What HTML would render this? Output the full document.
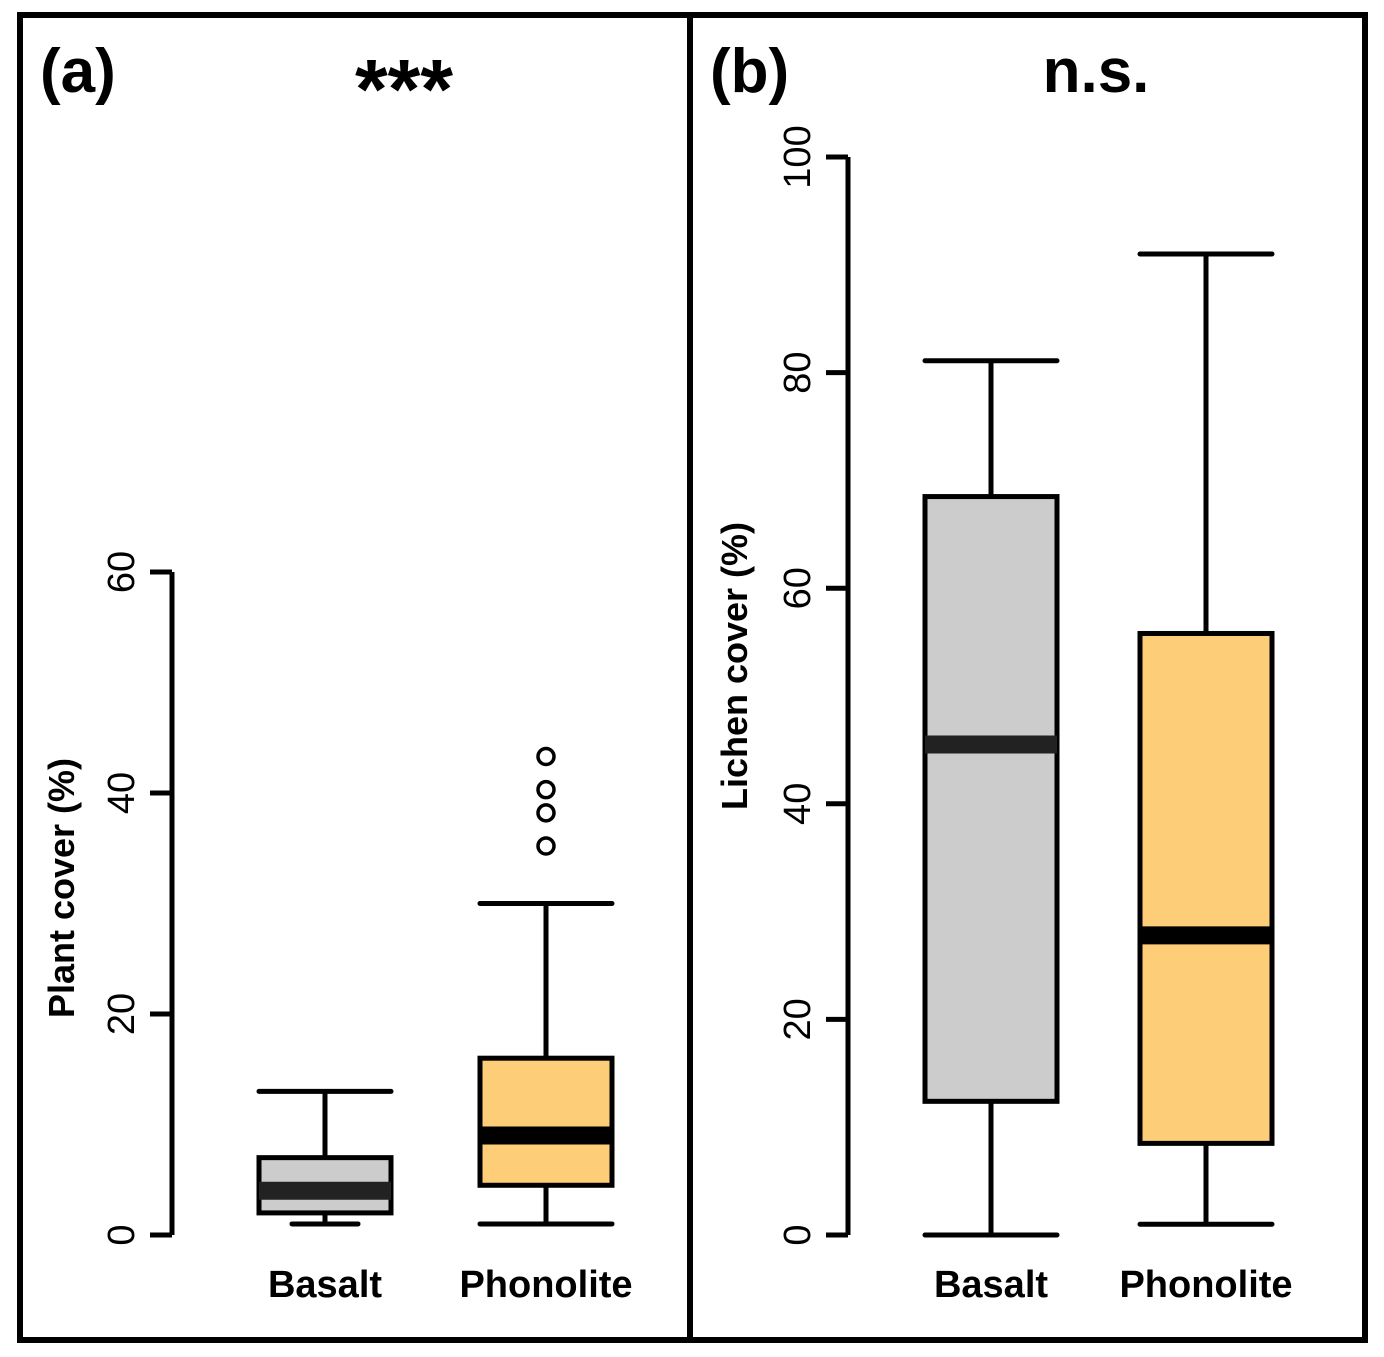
<!DOCTYPE html>
<html><head><meta charset="utf-8"><style>
body{margin:0;background:#fff;}
svg{display:block;font-family:"Liberation Sans","DejaVu Sans",sans-serif;font-weight:bold;}
</style></head><body>
<svg id="c" width="1384" height="1357" viewBox="0 0 1384 1357"></svg>
<script>
const categories = ["Basalt","Phonolite"];
const plantStats = [[1,2,4,7,13],[1,4.5,9,16,30]];
const plantOutliers = [[],[43.3,40.3,38.2,35.2]];
const lichenStats = [[0,12.4,45.5,68.5,81.1],[1,8.5,27.8,55.8,91]];
const lichenOutliers = [[],[]];
const plantTicks = [0,20,40,60];
const lichenTicks = [0,20,40,60,80,100];
const fills = ["#cccccc","#fecd77"];

const svg = document.getElementById('c');
const NS = "http://www.w3.org/2000/svg";
function mk(tag, attrs, parent){
  const e = document.createElementNS(NS, tag);
  for (const k in attrs) e.setAttribute(k, attrs[k]);
  (parent||svg).appendChild(e);
  return e;
}
mk('rect',{x:20,y:15,width:1345,height:1325,fill:'none',stroke:'#000','stroke-width':6});
const div = mk('line',{x1:690,y1:15,x2:690,y2:1340,stroke:'#000','stroke-width':6});



function panel(opt){
  const g = mk('g',{});
  
  
  const y = v => opt.y0 - v * (opt.y0 - opt.yTop) / (opt.ticks[opt.ticks.length-1]);
  const sw = 5;
  const ax = mk('line',{x1:opt.ax,y1:y(0),x2:opt.ax,y2:y(opt.ticks[opt.ticks.length-1]),stroke:'#000','stroke-width':sw},g);
  
  
  opt.ticks.forEach(t=>{
    mk('line',{x1:opt.ax-22,y1:y(t),x2:opt.ax,y2:y(t),stroke:'#000','stroke-width':sw},g);
    const tx = mk('text',{x:0,y:0,transform:`translate(${opt.ax-38},${y(t)}) rotate(-90)`,'text-anchor':'middle','font-size':38,'font-weight':'normal'},g);
    tx.textContent = t;
    
    
  });
  const yt = mk('text',{transform:`translate(${opt.titleX},${opt.titleY}) rotate(-90)`,'text-anchor':'middle','font-size':36},g);
  yt.textContent = opt.title;
  
  
  opt.stats.forEach((s,i)=>{
    const cx = opt.cx[i], hw = 66;
    const bg = mk('g',{},g);
    
    
    mk('line',{x1:cx,y1:y(s[0]),x2:cx,y2:y(s[1]),stroke:'#000','stroke-width':sw},bg);
    mk('line',{x1:cx,y1:y(s[3]),x2:cx,y2:y(s[4]),stroke:'#000','stroke-width':sw},bg);
    const lc = opt.lowCap[i];
    mk('line',{x1:cx-lc,y1:y(s[0]),x2:cx+lc,y2:y(s[0]),stroke:'#000','stroke-width':sw,'stroke-linecap':'round'},bg);
    mk('line',{x1:cx-hw,y1:y(s[4]),x2:cx+hw,y2:y(s[4]),stroke:'#000','stroke-width':sw,'stroke-linecap':'round'},bg);
    mk('rect',{x:cx-hw,y:y(s[3]),width:2*hw,height:y(s[1])-y(s[3]),fill:fills[i],stroke:'#000','stroke-width':sw},bg);
    mk('line',{x1:cx-hw,y1:y(s[2]),x2:cx+hw,y2:y(s[2]),stroke:i==0?'#222':'#000','stroke-width':opt.medW},bg);
    opt.outliers[i].forEach(o=>{
      const c = mk('circle',{cx:cx,cy:y(o),r:8,fill:'none',stroke:'#000','stroke-width':3.5},bg);
      
      
    });
    const lb = mk('text',{x:cx,y:1297,'text-anchor':'middle','font-size':38},g);
    lb.textContent = categories[i];
    
    
  });
  const pl = mk('text',{x:opt.labX,y:92,'font-size':62},g);
  pl.textContent = opt.label;
  
  
  const sg = mk('text',{x:opt.sigX,y:opt.sigY,'text-anchor':'middle','font-size':opt.sigSize},g);
  sg.textContent = opt.sig;
  
  
}
panel({name:'panel-a',ax:172,y0:1235,yTop:572,ticks:plantTicks,stats:plantStats,outliers:plantOutliers,
  cx:[325,546],lowCap:[33,66],medW:18,title:'Plant cover (%)',titleX:74,titleY:888,
  label:'(a)',labX:40,sig:'***',sigX:404,sigY:118,sigSize:84});
panel({name:'panel-b',ax:848,y0:1235,yTop:157,ticks:lichenTicks,stats:lichenStats,outliers:lichenOutliers,
  cx:[991,1206],lowCap:[66,66],medW:18,title:'Lichen cover (%)',titleX:747,titleY:666,
  label:'(b)',labX:710,sig:'n.s.',sigX:1096,sigY:92,sigSize:62});
</script>
</body></html>
